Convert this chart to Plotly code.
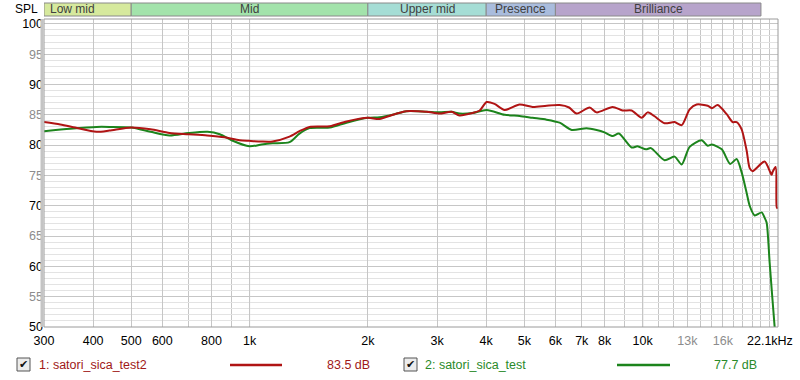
import math
import plotly.graph_objects as go

# ---------------- data ----------------
red_freq = [300, 330, 360, 408, 440, 500, 560, 626, 700, 780, 864, 943, 1000, 1070, 1144,
            1264, 1340, 1421, 1600, 1765, 2000, 2140, 2340, 2500, 2820, 3044, 3266, 3420,
            3693, 3850, 4010, 4200, 4456, 4864, 5250, 5700, 6150, 6500, 6794, 7332, 7638,
            8389, 8895, 9376, 9942, 10300, 10700, 11376, 12060, 12570, 13170, 13720, 14640,
            15000, 15520, 16360, 16940, 17345, 17860, 18390, 18720, 19050, 20440, 21290,
            21420, 21800, 21930, 22060]
red_spl = [83.8, 83.4, 82.9, 82.2, 82.4, 82.9, 82.6, 82.0, 81.8, 81.6, 81.3, 80.8, 80.7,
           80.6, 80.6, 81.4, 82.3, 83.0, 83.1, 83.9, 84.5, 84.3, 85.1, 85.6, 85.5, 85.2,
           85.5, 84.9, 85.3, 85.7, 87.1, 86.8, 85.8, 86.7, 86.3, 86.5, 86.6, 86.2, 85.2,
           86.2, 85.4, 86.3, 85.7, 85.7, 84.5, 85.4, 84.8, 83.6, 83.8, 83.3, 85.9, 86.7,
           86.5, 86.1, 86.6, 85.1, 83.8, 83.8, 82.6, 79.1, 76.2, 75.7, 77.3, 75.1, 75.6,
           76.4, 69.8, 69.5]

green_freq = [300, 350, 408, 440, 500, 560, 626, 700, 782, 840, 900, 1000, 1073, 1144, 1264,
              1340, 1421, 1600, 1765, 2000, 2142, 2339, 2508, 2821, 3044, 3266, 3422, 3693,
              4010, 4456, 4864, 5250, 5697, 6149, 6600, 7200, 7638, 8000, 8389, 8700, 9376,
              9700, 10200, 10500, 11376, 12060, 12570, 13170, 14130, 14640, 15000, 15900,
              16700, 17345, 17862, 18394, 18720, 19275, 20083, 20440, 20680, 21046, 21670,
              21900]
green_spl = [82.3, 82.7, 83.0, 83.0, 82.9, 82.2, 81.6, 82.0, 82.2, 81.8, 80.8, 79.8, 80.1,
             80.3, 80.5, 81.9, 82.8, 82.9, 83.7, 84.5, 84.6, 85.1, 85.6, 85.5, 85.4, 85.5,
             85.2, 85.3, 85.8, 85.0, 84.8, 84.5, 84.2, 83.7, 82.5, 82.8, 82.5, 82.1, 81.5,
             81.9, 79.6, 79.8, 79.3, 79.5, 77.5, 78.1, 76.8, 79.7, 80.8, 79.9, 80.1, 79.3,
             76.9, 77.7, 75.5, 72.1, 70.0, 68.4, 68.9, 68.0, 67.2, 60.6, 50.0, 47.0]

band_names = ["Low mid", "Mid", "Upper mid", "Presence", "Brilliance"]
band_lo = [250, 500, 2000, 4000, 6000]
band_hi = [500, 2000, 4000, 6000, 20000]

x_tick_vals = [300, 400, 500, 600, 800, 1000, 2000, 3000, 4000, 5000, 6000, 7000, 8000,
               10000, 13000, 16000]
x_tick_text = ["300", "400", "500", "600", "800", "1k", "2k", "3k", "4k", "5k", "6k", "7k",
               "8k", "10k", "13k", "16k"]
x_dim_ticks = [13000, 16000]
x_minor_vals = [700, 900, 9000, 11000, 12000, 14000, 15000, 17000, 18000, 19000, 20000,
                21000, 22000]
x_major_vals = [1000, 10000]
x_end_label = "22.1kHz"
y_tick_vals = [50, 55, 60, 65, 70, 75, 80, 85, 90, 95, 100]

series_names = ["1: satori_sica_test2", "2: satori_sica_test"]
series_levels = ["83.5 dB", "77.7 dB"]

# ---------------- styles / geometry ----------------
W, H = 800, 380
PL, PT, PR, PB = 44, 19, 778, 327          # plot box in reference pixels
ML, MT = PL, PT
PW, PH = PR - PL, PB - PT
MR, MB = W - ML - PW, H - MT - PH
RED = "#b01414"
GREEN = "#1c841c"
RED_TXT = "#a01818"
GREEN_TXT = "#2a8a2a"
band_colors = ["#d6e99d", "#a3e3ab", "#a5ddd5", "#a9bcdd", "#b7a4cb"]
FONT = "Liberation Sans"
DIM = "#8c8c8c"


def px(xp):
    return (xp - PL) / PW


def py(yp):
    return (PB - yp) / PH


fig = go.Figure()
fig.add_trace(go.Scatter(x=green_freq, y=green_spl, mode="lines",
                         line=dict(color=GREEN, width=2, shape="spline", smoothing=0.7),
                         hoverinfo="skip", showlegend=False))
fig.add_trace(go.Scatter(x=red_freq, y=red_spl, mode="lines",
                         line=dict(color=RED, width=2, shape="spline", smoothing=0.7),
                         hoverinfo="skip", showlegend=False))

ticktext = [f'<span style="color:{DIM}">{t}</span>' if v in x_dim_ticks else t
            for v, t in zip(x_tick_vals, x_tick_text)]
yticktext = [str(v) if v % 10 == 0 else f'<span style="color:{DIM}">{v}</span>'
             for v in y_tick_vals]

shapes = []
for v in x_major_vals:
    shapes.append(dict(type="line", xref="x", yref="paper", x0=v, x1=v, y0=0, y1=1,
                       line=dict(color="#6e6e6e", width=1), layer="below"))
# plot frame
shapes.append(dict(type="rect", xref="paper", yref="paper", x0=0, x1=1, y0=0, y1=1,
                   line=dict(color="#9a9a9a", width=1)))
shapes.append(dict(type="line", xref="paper", yref="paper", x0=px(42), x1=px(42), y0=0, y1=1,
                   line=dict(color="#c4c4c4", width=3)))

annotations = []
xmin, xmax = 300, 22100
for name, lo, hi, col in zip(band_names, band_lo, band_hi, band_colors):
    shapes.append(dict(type="rect", xref="x", yref="paper", x0=max(lo, xmin), x1=min(hi, xmax),
                       y0=py(16), y1=py(3), fillcolor=col, line=dict(color="#8a8a8a", width=1)))
    annotations.append(dict(xref="x", yref="paper", x=math.log10(math.sqrt(lo * hi)), y=py(9.5),
                            text=name, showarrow=False, xanchor="center", yanchor="middle",
                            font=dict(family=FONT, size=12, color="#404040")))

annotations.append(dict(xref="paper", yref="paper", x=px(40), y=py(9.5), text="SPL",
                        showarrow=False, xanchor="right", yanchor="middle",
                        font=dict(family=FONT, size=12, color="#000000")))
annotations.append(dict(xref="paper", yref="paper", x=px(795), y=py(341), text=x_end_label,
                        showarrow=False, xanchor="right", yanchor="middle",
                        font=dict(family=FONT, size=12.5, color="#000000")))

# legend row
leg_x = [(17, 37, 230, 282, 325), (404, 423, 617, 670, 712)]
for (cb, tx, l0, l1, lv), name, lvl, tcol, lcol in zip(leg_x, series_names, series_levels,
                                                      [RED_TXT, GREEN_TXT], [RED, GREEN]):
    shapes.append(dict(type="rect", xref="paper", yref="paper", x0=px(cb), x1=px(cb + 13),
                       y0=py(371), y1=py(358), fillcolor="#ececec",
                       line=dict(color="#555555", width=1)))
    annotations.append(dict(xref="paper", yref="paper", x=px(cb + 6.5), y=py(364.5), text="✔",
                            showarrow=False, xanchor="center", yanchor="middle",
                            font=dict(family="DejaVu Sans", size=11, color="#111111")))
    annotations.append(dict(xref="paper", yref="paper", x=px(tx), y=py(365), text=name,
                            showarrow=False, xanchor="left", yanchor="middle",
                            font=dict(family=FONT, size=12.5, color=tcol)))
    shapes.append(dict(type="line", xref="paper", yref="paper", x0=px(l0), x1=px(l1),
                       y0=py(365), y1=py(365), line=dict(color=lcol, width=2.5)))
    annotations.append(dict(xref="paper", yref="paper", x=px(lv), y=py(365), text=lvl,
                            showarrow=False, xanchor="left", yanchor="middle",
                            font=dict(family=FONT, size=12.5, color=tcol)))

fig.update_layout(
    width=W, height=H, autosize=False,
    margin=dict(l=ML, r=MR, t=MT, b=MB, pad=0),
    paper_bgcolor="white", plot_bgcolor="white",
    font=dict(family=FONT, size=12, color="#000000"),
    shapes=shapes, annotations=annotations,
    xaxis=dict(type="log", range=[math.log10(xmin), math.log10(xmax)],
               tickmode="array", tickvals=x_tick_vals, ticktext=ticktext,
               showgrid=True, gridcolor="#c6c6c6", gridwidth=1, zeroline=False,
               ticks="", showline=False, tickfont=dict(size=12.5), ticklabelstandoff=4,
               minor=dict(tickmode="array", tickvals=x_minor_vals, showgrid=True,
                          gridcolor="#c6c6c6", gridwidth=1, ticks="")),
    yaxis=dict(range=[50, 100.8], tickmode="array", tickvals=y_tick_vals, ticktext=yticktext,
               showgrid=True, gridcolor="#c6c6c6", gridwidth=1, zeroline=False,
               ticks="", showline=False, tickfont=dict(size=12.5),
               minor=dict(dtick=1, tick0=50, showgrid=True, gridcolor="#e3e3e3",
                          gridwidth=1, ticks="")),
)

# remove the browser's default 8 px body margin so the 800x380 figure fills the window
fig.write_html("out.html",
               config={"displayModeBar": False, "staticPlot": True},
               post_script="document.body.style.margin='0px';document.body.style.overflow='hidden';")
